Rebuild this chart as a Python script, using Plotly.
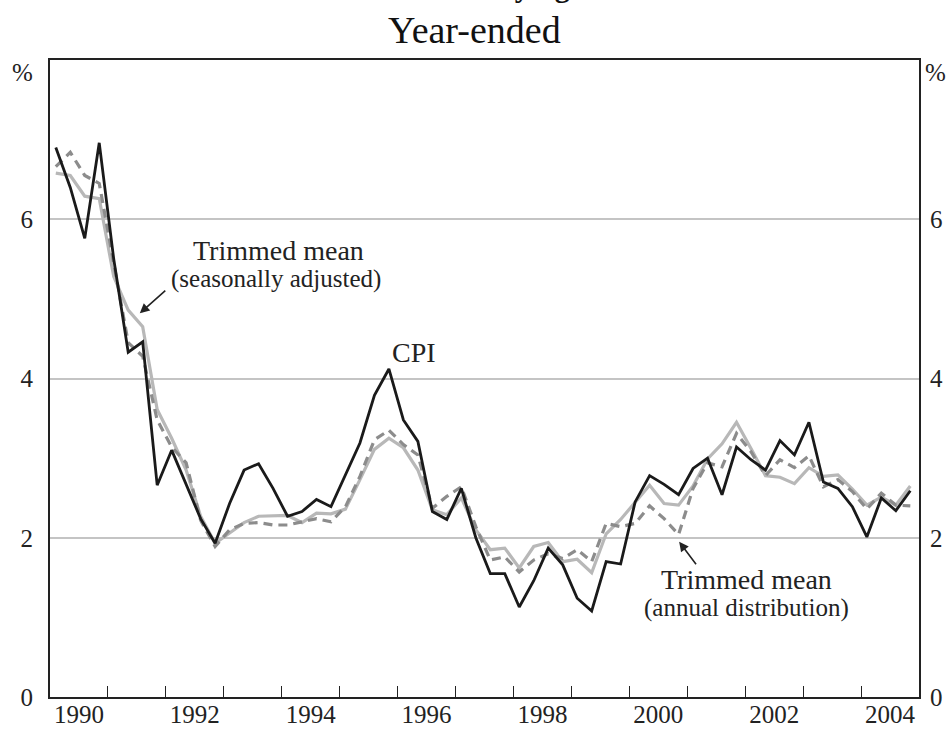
import plotly.graph_objects as go

years = list(range(1990, 2005))
quarter_offsets = [0.1, 0.35, 0.6, 0.85]

cpi = [6.90, 6.40, 5.76, 6.96,
       5.50, 4.33, 4.46, 2.66,
       3.10, 2.66, 2.24, 1.93,
       2.43, 2.85, 2.93, 2.62,
       2.27, 2.33, 2.48, 2.39,
       2.79, 3.19, 3.79, 4.12,
       3.48, 3.21, 2.33, 2.23,
       2.62, 2.00, 1.55, 1.55,
       1.13, 1.46, 1.87, 1.66,
       1.24, 1.08, 1.70, 1.67,
       2.45, 2.78, 2.67, 2.54,
       2.87, 3.00, 2.54, 3.14,
       2.98, 2.85, 3.22, 3.04,
       3.45, 2.70, 2.62, 2.39,
       2.01, 2.50, 2.34, 2.59]

tm_sa = [6.58, 6.55, 6.29, 6.26,
         5.28, 4.86, 4.65, 3.61,
         3.25, 2.85, 2.27, 1.93,
         2.06, 2.19, 2.27, 2.27,
         2.28, 2.19, 2.31, 2.30,
         2.36, 2.73, 3.11, 3.25,
         3.13, 2.85, 2.35, 2.29,
         2.50, 2.10, 1.85, 1.87,
         1.62, 1.89, 1.94, 1.70,
         1.73, 1.56, 2.05, 2.23,
         2.44, 2.66, 2.43, 2.41,
         2.65, 2.99, 3.18, 3.45,
         3.12, 2.78, 2.76, 2.68,
         2.88, 2.77, 2.79, 2.61,
         2.41, 2.51, 2.41, 2.65]

tm_annual = [6.66, 6.84, 6.55, 6.45,
             5.45, 4.45, 4.28, 3.48,
             3.14, 2.94, 2.22, 1.89,
             2.10, 2.18, 2.19, 2.16,
             2.16, 2.20, 2.24, 2.20,
             2.39, 2.77, 3.23, 3.35,
             3.17, 3.04, 2.37, 2.52,
             2.64, 2.14, 1.72, 1.76,
             1.57, 1.72, 1.80, 1.74,
             1.85, 1.70, 2.18, 2.14,
             2.18, 2.40, 2.24, 2.04,
             2.62, 2.94, 2.89, 3.31,
             3.08, 2.78, 2.98, 2.88,
             3.03, 2.64, 2.73, 2.58,
             2.36, 2.56, 2.41, 2.40]

x_dates = [y + q for y in years for q in quarter_offsets]

year_labels = ["1990", "1992", "1994", "1996", "1998", "2000", "2002", "2004"]
year_label_pos = [int(s) + 0.5 for s in year_labels]
y_ticks = [0, 2, 4, 6]

FONT = "Liberation Serif, Times New Roman, serif"

fig = go.Figure()
fig.add_trace(go.Scatter(x=x_dates, y=tm_sa, mode="lines",
                         line=dict(color="#b8b8b8", width=3.2),
                         name="Trimmed mean (seasonally adjusted)", hoverinfo="skip"))
fig.add_trace(go.Scatter(x=x_dates, y=tm_annual, mode="lines",
                         line=dict(color="#8c8c8c", width=3.2, dash="9px,6px"),
                         name="Trimmed mean (annual distribution)", hoverinfo="skip"))
fig.add_trace(go.Scatter(x=x_dates, y=cpi, mode="lines",
                         line=dict(color="#1a1a1a", width=2.8),
                         name="CPI", hoverinfo="skip"))
# helper traces so the secondary axes get drawn
fig.add_trace(go.Scatter(x=[1990.5], y=[0], xaxis="x2", yaxis="y", mode="markers",
                         marker=dict(opacity=0), showlegend=False, hoverinfo="skip"))
fig.add_trace(go.Scatter(x=[1990.5], y=[0], xaxis="x", yaxis="y2", mode="markers",
                         marker=dict(opacity=0), showlegend=False, hoverinfo="skip"))

tickfont = dict(family=FONT, size=25, color="#222")

fig.update_layout(
    width=951, height=733,
    margin=dict(l=50, r=32, t=60, b=36, autoexpand=False),
    paper_bgcolor="white", plot_bgcolor="white",
    showlegend=False,
    xaxis=dict(range=[1990, 2005], tickvals=list(range(1991, 2005)),
               showticklabels=False, ticks="inside", ticklen=11, tickwidth=1,
               tickcolor="#222", showgrid=False, zeroline=False, automargin=False,
               showline=True, linecolor="#222", linewidth=2, mirror=True),
    xaxis2=dict(range=[1990, 2005], overlaying="x", side="bottom", anchor="y",
                tickvals=year_label_pos, ticktext=year_labels, automargin=False,
                ticks="", showgrid=False, zeroline=False, showline=False,
                tickfont=tickfont),
    yaxis=dict(range=[0, 8], tickvals=y_ticks, ticktext=[str(v) for v in y_ticks],
               ticks="outside", ticklen=10, tickcolor="rgba(0,0,0,0)", automargin=False,
               showgrid=True, gridcolor="#c4c4c4", gridwidth=1.5, zeroline=False,
               showline=True, linecolor="#222", linewidth=2, mirror=True,
               tickfont=tickfont),
    yaxis2=dict(range=[0, 8], overlaying="y", side="right", anchor="x",
                tickvals=y_ticks, ticktext=[str(v) for v in y_ticks], automargin=False,
                ticks="outside", ticklen=5, tickcolor="rgba(0,0,0,0)",
                showgrid=False, zeroline=False, showline=False, tickfont=tickfont),
)

ann_font = dict(family=FONT, size=28, color="#222")
small_font = dict(family=FONT, size=25, color="#222")

annotations = [
    dict(text="<b>Measures of Underlying Inflation</b>", xref="paper", yref="paper",
         x=0.49, y=1.115, xanchor="center", yanchor="middle", showarrow=False,
         font=dict(family=FONT, size=30, color="#111")),
    dict(text="Year-ended", xref="paper", yref="paper", x=0.4885, y=1.047,
         xanchor="center", yanchor="middle", showarrow=False,
         font=dict(family=FONT, size=38, color="#111")),
    dict(text="%", xref="paper", yref="paper", x=-0.032, y=0.981, xanchor="center",
         yanchor="middle", showarrow=False, font=tickfont),
    dict(text="%", xref="paper", yref="paper", x=1.019, y=0.981, xanchor="center",
         yanchor="middle", showarrow=False, font=tickfont),
    dict(text="Trimmed mean", x=1993.94, y=5.61, xanchor="center", yanchor="middle",
         showarrow=False, font=ann_font),
    dict(text="(seasonally adjusted)", x=1993.9, y=5.25, xanchor="center",
         yanchor="middle", showarrow=False, font=small_font),
    dict(text="", x=1991.55, y=4.82, ax=27, ay=-24, showarrow=True, arrowhead=2,
         arrowsize=1.2, arrowwidth=1.6, arrowcolor="#222"),
    dict(text="CPI", x=1996.28, y=4.33, xanchor="center", yanchor="middle",
         showarrow=False, font=ann_font),
    dict(text="Trimmed mean", x=2002.03, y=1.48, xanchor="center", yanchor="middle",
         showarrow=False, font=ann_font),
    dict(text="(annual distribution)", x=2002.02, y=1.12, xanchor="center",
         yanchor="middle", showarrow=False, font=small_font),
    dict(text="", x=2000.86, y=1.95, ax=18, ay=24, showarrow=True, arrowhead=2,
         arrowsize=1.2, arrowwidth=1.6, arrowcolor="#222"),
]
fig.update_layout(annotations=annotations)

fig.write_html("out.html", config={"displayModeBar": False},
               post_script="document.body.style.margin='0px';document.body.style.padding='0px';")
